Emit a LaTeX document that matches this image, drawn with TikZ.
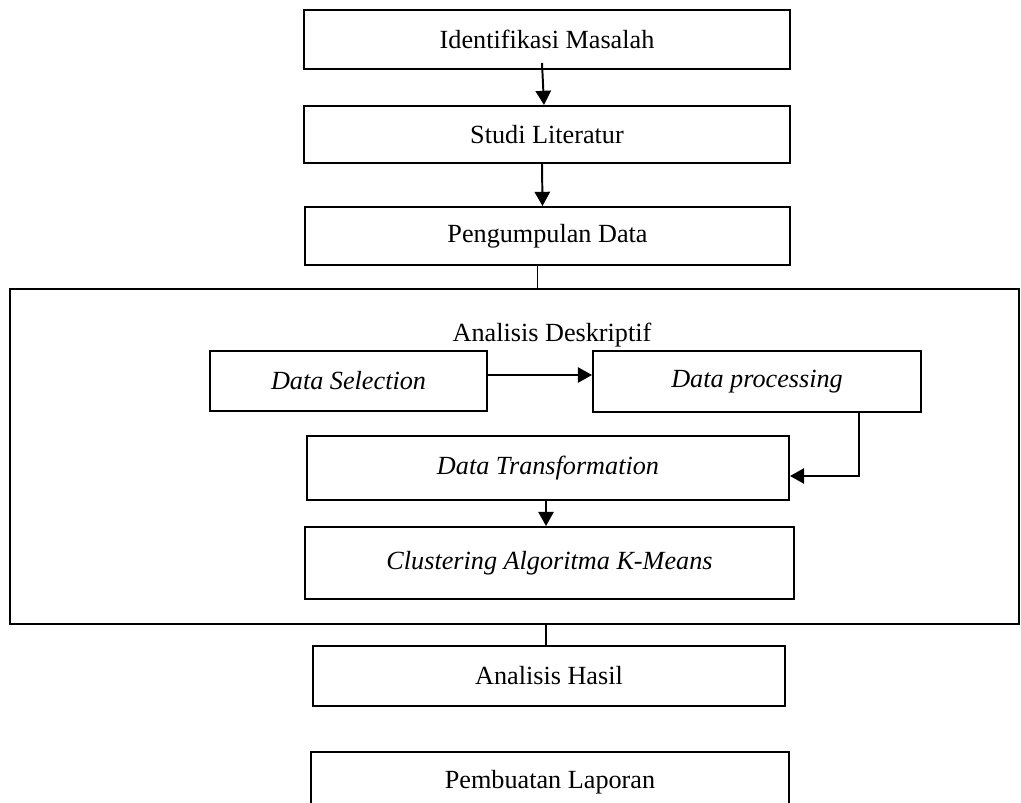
\documentclass[tikz,border=0pt]{standalone}
\usepackage{fontspec}
\setmainfont{Liberation Serif}
\usetikzlibrary{arrows.meta,calc}
\newcommand{\pxu}{0.458pt}

\begin{document}
\begin{tikzpicture}[x=0.458pt, y=-0.458pt,
    font=\fontsize{12}{14}\selectfont,
    box/.style={draw, line width=0.9pt, inner sep=0pt},
    arr/.style={line width=0.9pt, -{Triangle[length=6.5pt, width=7pt]}}]
    \useasboundingbox (0,0) rectangle (1021,803);
    % top of the flow
    \node[box, minimum width=486*\pxu, minimum height=59*\pxu] (idm) at (547,39.5) {Identifikasi Masalah};
    \node[box, minimum width=486*\pxu, minimum height=57*\pxu] (studi) at (547,134.5) {Studi Literatur};
    \node[box, minimum width=485*\pxu, minimum height=58*\pxu] (kumpul) at (547.5,236) {Pengumpulan Data};
    % descriptive analysis block
    \node[box, minimum width=1009*\pxu, minimum height=335*\pxu] (deskriptif) at (514.5,456.5) {};
    \node[anchor=base] (judul) at (552,342) {Analisis Deskriptif};
    \node[box, minimum width=277*\pxu, minimum height=60*\pxu] (sel) at (348.5,381) {\textit{Data Selection}};
    \node[box, minimum width=328*\pxu, minimum height=61*\pxu] (proc) at (757,381.5) {\textit{Data processing}};
    \node[box, minimum width=482*\pxu, minimum height=64*\pxu] (trans) at (548,468) {\textit{Data Transformation}};
    \node[box, minimum width=489*\pxu, minimum height=72*\pxu] (klaster) at (549.5,563) {\textit{Clustering Algoritma K-Means}};
    % end of the flow
    \node[box, minimum width=472*\pxu, minimum height=60*\pxu] (hasil) at (549,676) {Analisis Hasil};
    \node[box, minimum width=478*\pxu, minimum height=60*\pxu] (lapor) at (550,782) {Pembuatan Laporan};

    \draw[arr] ([shift={(-5,-7)}]idm.south) -- ([shift={(-3,0)}]studi.north);
    \draw[arr] ([shift={(-5,0)}]studi.south) -- ([shift={(-5,0)}]kumpul.north);
    \draw[line width=0.6pt] ([shift={(-10,0)}]kumpul.south) coordinate (k1) -- (k1 |- deskriptif.north);
    \draw[arr] ([shift={(0,-6)}]sel.east) coordinate (s1) -- (s1 -| proc.west);
    \draw[arr] ([shift={(102,0)}]proc.south) |- ([shift={(0,8)}]trans.east);
    \draw[arr] ([shift={(-2,0)}]trans.south) -- ([shift={(-2,0)}]trans.south |- klaster.north);
    \draw[line width=0.6pt] ([shift={(-3,0)}]deskriptif.south -| hasil.north) coordinate (d1) -- (d1 |- hasil.north);
\end{tikzpicture}
\end{document}
